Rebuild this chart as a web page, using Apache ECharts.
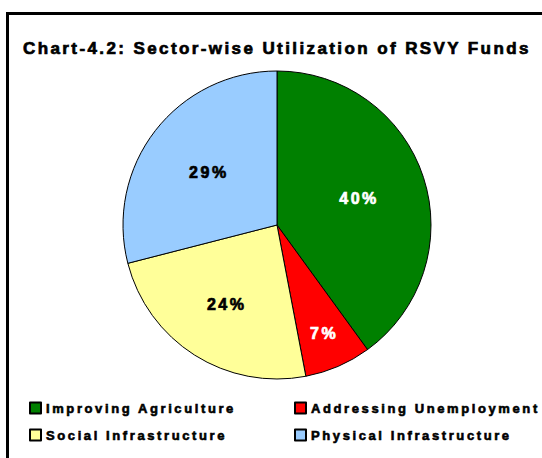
<!DOCTYPE html>
<html>
<head>
<meta charset="utf-8">
<script src="https://cdn.jsdelivr.net/npm/echarts@6/dist/echarts.min.js"></script>
<style>
  html, body { margin: 0; padding: 0; background: #fff; }
  #chart { width: 542px; height: 458px; }
  #chart text { letter-spacing: 2.5px; }
  #chart text[style*="font-size: 17px"] { letter-spacing: 2.4px; }
  #chart text[style*="font-size: 13px"] { letter-spacing: 2.6px; }
</style>
</head>
<body>
<div id="chart"></div>
<script>
const titleText = 'Chart-4.2: Sector-wise Utilization of RSVY Funds';
const categories = ['Improving Agriculture', 'Addressing Unemployment', 'Social Infrastructure', 'Physical Infrastructure'];
const values = [40, 7, 24, 29];
const sliceColors = ['#008000', '#FF0000', '#FFFF99', '#99CCFF'];
const labelColors = ['#FFFFFF', '#FFFFFF', '#000000', '#000000'];

// layout constants
const CX = 277, CY = 225, R = 154;
const labelRadiusFrac = [0.56, 0.77, 0.61, 0.56];

const total = values.reduce((a, b) => a + b, 0);
const midAngles = [];
let acc = 0;
values.forEach(v => { midAngles.push((acc + v / 2) / total * 2 * Math.PI); acc += v; });

const FONT = 'Arial';
const legendText = { fontFamily: FONT, fontWeight: 'bold', fontSize: 13, lineHeight: 14, color: '#000', textBorderColor: '#000', textBorderWidth: 0.6 };
const chart = echarts.init(document.getElementById('chart'), null, { renderer: 'svg' });
chart.setOption({
  backgroundColor: '#fff',
  animation: false,
  title: {
    text: titleText,
    left: 23, top: 40, padding: 0,
    textStyle: { fontFamily: FONT, fontWeight: 'bold', fontSize: 17, color: '#000', textBorderColor: '#000', textBorderWidth: 0.7 }
  },
  legend: [
    {
      data: [categories[0], categories[2]],
      orient: 'vertical', left: 29, top: 401, padding: 0,
      itemWidth: 11, itemHeight: 11, itemGap: 13, icon: 'rect',
      textStyle: legendText
    },
    {
      data: [categories[1], categories[3]],
      orient: 'vertical', left: 294, top: 401, padding: 0,
      itemWidth: 11, itemHeight: 11, itemGap: 13, icon: 'rect',
      textStyle: legendText
    }
  ],
  graphic: [{
    type: 'rect',
    shape: { x: 7.5, y: 13.5, width: 700, height: 600 },
    style: { fill: 'none', stroke: '#000', lineWidth: 3 },
    silent: true
  }],
  series: [{
    type: 'pie',
    center: [CX, CY],
    radius: [0, R],
    startAngle: 90,
    clockwise: true,
    avoidLabelOverlap: false,
    percentPrecision: 0,
    itemStyle: { borderColor: '#000', borderWidth: 1 },
    label: {
      show: true, position: 'inside', formatter: '{d}%',
      fontFamily: FONT, fontWeight: 'bold', fontSize: 16, textBorderWidth: 0.7
    },
    labelLine: { show: false },
    emphasis: { disabled: true },
    labelLayout: function (p) {
      const i = p.dataIndex;
      const r = R * labelRadiusFrac[i];
      return { x: CX + r * Math.sin(midAngles[i]), y: CY - r * Math.cos(midAngles[i]), align: 'center', verticalAlign: 'middle' };
    },
    data: categories.map((name, i) => ({
      name: name,
      value: values[i],
      itemStyle: { color: sliceColors[i] },
      label: { color: labelColors[i], textBorderColor: labelColors[i] }
    }))
  }]
});
</script>
</body>
</html>
